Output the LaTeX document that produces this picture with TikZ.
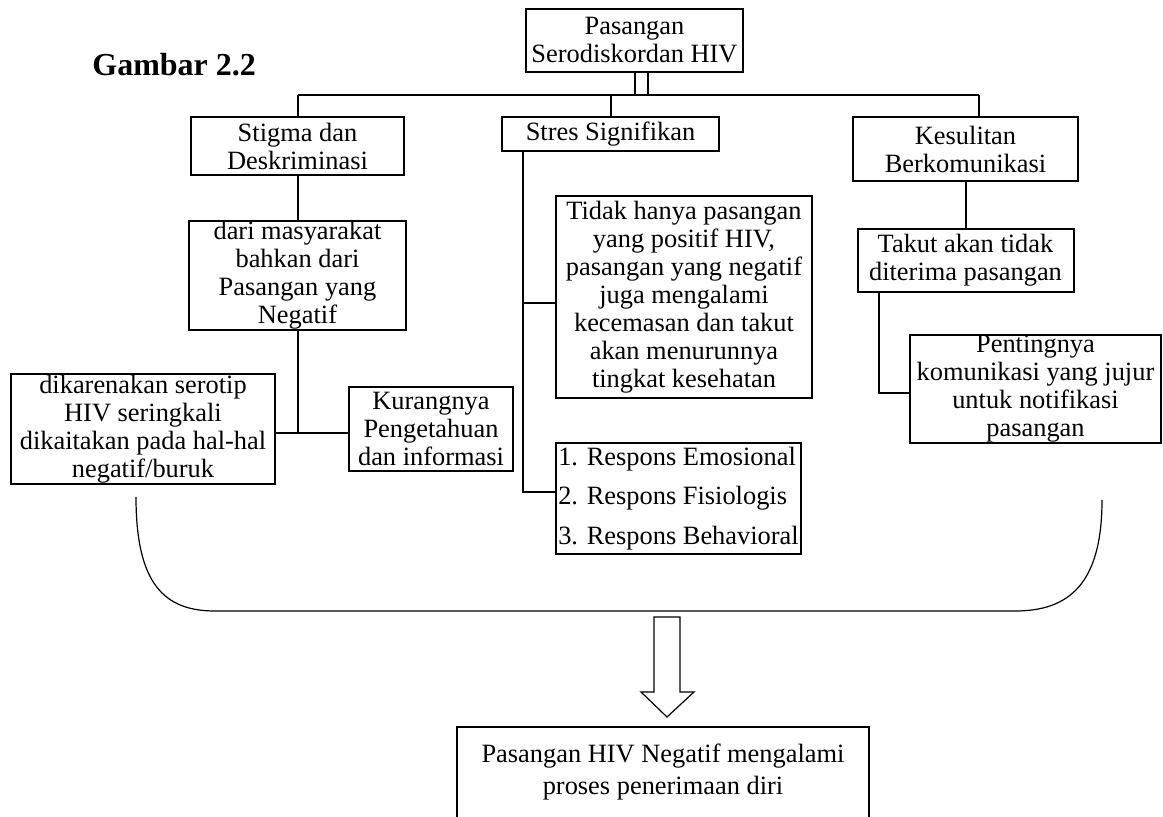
\documentclass[tikz,border=0pt]{standalone}
\usepackage{fontspec}
\setmainfont{Liberation Serif}
\usetikzlibrary{positioning}
\tikzset{
  bx/.style={rectangle, draw=black, line width=1pt, inner sep=0pt, align=center, font=\fontsize{13.2}{14}\selectfont},
  ln/.style={line width=1pt},
  tn/.style={line width=0.6pt},
  node distance=22pt
}
\begin{document}
\begin{tikzpicture}[x=0.5pt, y=-0.5pt]
	\clip (0,0) rectangle (1163,817);
	\node[anchor=base west, inner sep=0pt, font=\fontsize{16}{18}\selectfont\bfseries] (judul) at (92,76) {Gambar 2.2};
	\node[bx, minimum width=108.5pt, minimum height=31.5pt] (top) at (634.5,40.5) {Pasangan\\Serodiskordan HIV};
	\node[bx, minimum width=106.5pt, minimum height=29pt] (stigma) at (297.5,146) {Stigma dan\\Deskriminasi};
	\node[bx, minimum width=108.5pt, minimum height=17pt] (stres) at (610.5,134) {Stres Signifikan};
	\node[bx, minimum width=112.5pt, minimum height=32pt] (kesul) at (965.5,149) {Kesulitan\\Berkomunikasi};
	\node[bx, minimum width=108.5pt, minimum height=54.5pt, below=of stigma] (dari) {dari masyarakat\\bahkan dari\\Pasangan yang\\Negatif};
	\node[bx, minimum width=132pt, minimum height=55pt] (dikar) at (143,429) {dikarenakan serotip\\HIV seringkali\\dikaitakan pada hal-hal\\negatif/buruk};
	\node[bx, minimum width=82pt, minimum height=42pt, right=36pt of dikar] (kurang) {Kurangnya\\Pengetahuan\\dan informasi};
	\node[bx, minimum width=128pt, minimum height=101pt] (tidak) at (684,297) {Tidak hanya pasangan\\yang positif HIV,\\pasangan yang negatif\\juga mengalami\\kecemasan dan takut\\akan menurunnya\\tingkat kesehatan};
	\node[bx, minimum width=122.5pt, minimum height=55.5pt, align=left, font=\fontsize{13.2}{19.75}\selectfont] (respons) at (678.5,498.5) {1. Respons Emosional\\2. Respons Fisiologis\\3. Respons Behavioral};
	\node[bx, minimum width=108pt, minimum height=31.5pt, below=23pt of kesul] (takut) {Takut akan tidak\\diterima pasangan};
	\node[bx, minimum width=125.5pt, minimum height=54pt] (penting) at (1035.5,389) {Pentingnya\\komunikasi yang jujur\\untuk notifikasi\\pasangan};
	\node[bx, draw=none, minimum width=205pt, minimum height=44pt, font=\fontsize{13.2}{16}\selectfont] (hasil) at (663,772) {Pasangan HIV Negatif mengalami\\proses penerimaan diri};
	%
	\coordinate (busl) at (297.5,95);
	\coordinate (busr) at (979,95);
	\coordinate (st) at (523,151);
	\coordinate (dj) at (297.5,433);
	\draw[ln] (busl) -- (busr);
	\draw[ln] (top.south) -- (top.south |- busl);
	\draw[ln] ([xshift=6.5pt]top.south) -- ([xshift=6.5pt]top.south |- busl);
	\draw[ln] (busl) -- (stigma.north);
	\draw[ln] (stres.north |- busl) -- (stres.north);
	\draw[ln] (busr) -- (busr |- kesul.north);
	\draw[ln] (stigma) -- (dari);
	\draw[ln] (dari.south) -- (dj);
	\draw[ln] (dikar.east |- dj) -- (kurang.west |- dj);
	\draw[ln] (st) |- ([yshift=-3pt]tidak.west);
	\draw[ln] (st) |- ([yshift=3.25pt]respons.west);
	\draw[ln] (kesul) -- (takut);
	\draw[ln] ([xshift=-43.5pt]takut.south) |- ([yshift=-2pt]penting.west);
	\draw[ln] ([yshift=-20pt]hasil.south west) |- (hasil.north) -| ([yshift=-20pt]hasil.south east);
	% kurung dan panah
	\draw[tn] (136,497) .. controls (136,585) and (165,611) .. (215,611) -- (1015,611) .. controls (1068,611) and (1102,585) .. (1102,500);
	\draw[tn] (654,617) -- (680,617) -- (680,692) -- (694,692) -- (667,717) -- (641,692) -- (654,692) -- cycle;
\end{tikzpicture}
\end{document}
